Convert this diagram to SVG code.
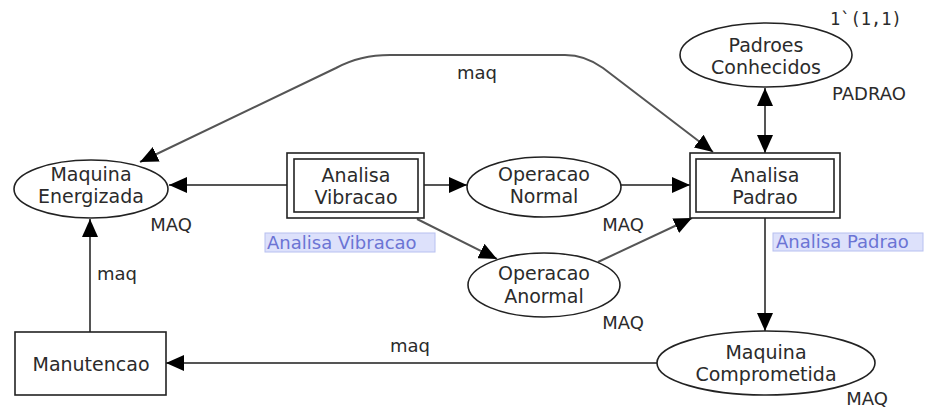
<svg xmlns="http://www.w3.org/2000/svg" width="930" height="410" viewBox="0 0 930 410">
<style>
text{font-family:"DejaVu Sans","Verdana",sans-serif;font-size:18px;fill:#2b2b2b;text-anchor:middle}
.nm{font-size:19px}
.node{fill:#fff;stroke:#222;stroke-width:1.6}
.arc{fill:none;stroke:#555;stroke-width:2}
.lbl{text-anchor:start}
.mono{font-family:"DejaVu Sans Mono",monospace;font-size:17px;text-anchor:start}
.tag{fill:#dde1fb;stroke:#b7c0f0;stroke-width:1}
.tagt{fill:#6b74d4;text-anchor:start}
</style>
<defs>
<marker id="ah" viewBox="0 0 18 16" refX="18" refY="8" markerWidth="18" markerHeight="16" markerUnits="userSpaceOnUse" orient="auto-start-reverse">
<path d="M0,0 L18,8 L0,16 Z" fill="#000"/>
</marker>
</defs>
<rect width="930" height="410" fill="#fff"/>
<g id="connectors">
<path class="arc" d="M140,162 L336,68 Q360,55 390,55 L565,55 Q585,55 603,68 L713,152" marker-start="url(#ah)" marker-end="url(#ah)"/>
<line class="arc" x1="287" y1="185" x2="169" y2="185" marker-end="url(#ah)"/>
<line class="arc" x1="424" y1="185" x2="467" y2="185" marker-end="url(#ah)"/>
<line class="arc" x1="417" y1="219" x2="497" y2="259" marker-end="url(#ah)"/>
<line class="arc" x1="621" y1="185" x2="690" y2="185" marker-end="url(#ah)"/>
<line class="arc" x1="598" y1="262" x2="692" y2="218" marker-end="url(#ah)"/>
<line class="arc" x1="765" y1="88" x2="765" y2="153" marker-start="url(#ah)" marker-end="url(#ah)"/>
<line class="arc" x1="765" y1="218" x2="765" y2="331" marker-end="url(#ah)"/>
<line class="arc" x1="657" y1="363" x2="166" y2="363" marker-end="url(#ah)"/>
<line class="arc" x1="90" y1="332" x2="90" y2="219" marker-end="url(#ah)"/>
<text x="477" y="79">maq</text>
<text x="117" y="280">maq</text>
<text x="410" y="352">maq</text>
</g>
<g id="maquina-energizada">
<ellipse class="node" cx="91" cy="189" rx="77" ry="29"/>
<text class="nm" x="91" y="181">Maquina</text>
<text class="nm" x="91" y="203">Energizada</text>
<text x="171" y="231">MAQ</text>
</g>
<g id="analisa-vibracao">
<rect class="node" x="287" y="153" width="137" height="65"/>
<rect class="node" x="294" y="159" width="124" height="53"/>
<text class="nm" x="356" y="182">Analisa</text>
<text class="nm" x="356" y="204">Vibracao</text>
<rect class="tag" x="265" y="233" width="170" height="19"/>
<text class="tagt" x="267" y="249">Analisa Vibracao</text>
</g>
<g id="operacao-normal">
<ellipse class="node" cx="544" cy="187" rx="77" ry="30"/>
<text class="nm" x="544" y="181">Operacao</text>
<text class="nm" x="544" y="203">Normal</text>
<text x="623" y="231">MAQ</text>
</g>
<g id="operacao-anormal">
<ellipse class="node" cx="544" cy="285" rx="76" ry="32"/>
<text class="nm" x="544" y="280">Operacao</text>
<text class="nm" x="544" y="303">Anormal</text>
<text x="623" y="329">MAQ</text>
</g>
<g id="analisa-padrao">
<rect class="node" x="690" y="153" width="150" height="65"/>
<rect class="node" x="696" y="159" width="138" height="53"/>
<text class="nm" x="765" y="182">Analisa</text>
<text class="nm" x="765" y="204">Padrao</text>
<rect class="tag" x="773" y="233" width="150" height="18"/>
<text class="tagt" x="776" y="248">Analisa Padrao</text>
</g>
<g id="padroes-conhecidos">
<ellipse class="node" cx="766" cy="55" rx="86" ry="32"/>
<text class="nm" x="766" y="52">Padroes</text>
<text class="nm" x="766" y="74">Conhecidos</text>
<text class="mono" x="830" y="25">1`(1,1)</text>
<text class="lbl" x="832" y="100">PADRAO</text>
</g>
<g id="maquina-comprometida">
<ellipse class="node" cx="766" cy="363" rx="109" ry="32"/>
<text class="nm" x="766" y="359">Maquina</text>
<text class="nm" x="766" y="381">Comprometida</text>
<text x="867" y="405">MAQ</text>
</g>
<g id="manutencao">
<rect class="node" x="15" y="332" width="151" height="63"/>
<text class="nm" x="91" y="371">Manutencao</text>
</g>
</svg>
